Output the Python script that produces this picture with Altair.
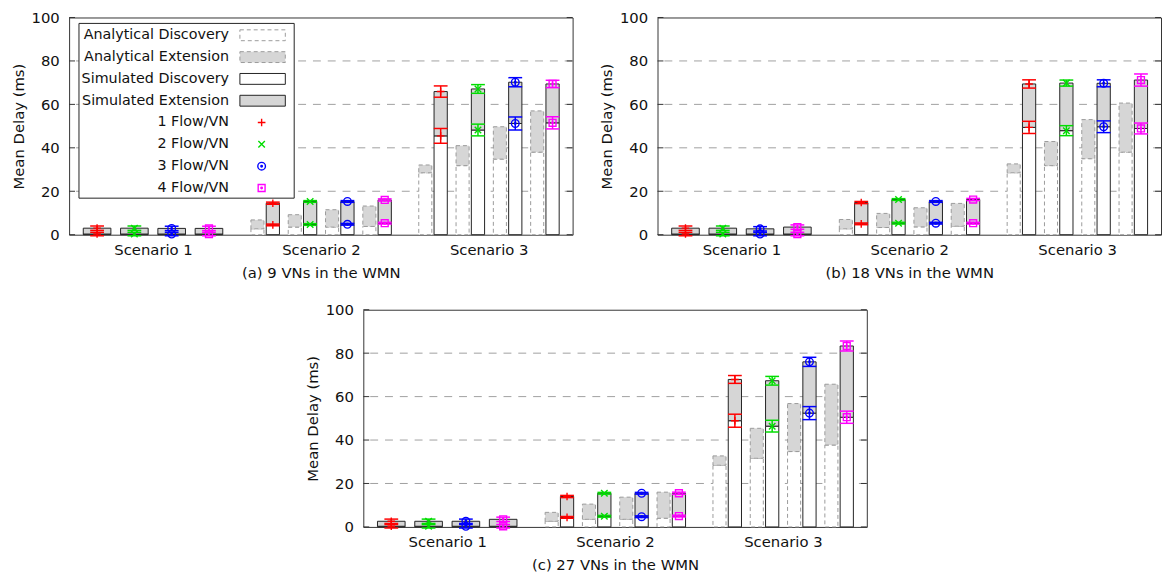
import altair as alt
import pandas as pd

# ---------------- data ----------------
scenarios = ["Scenario 1", "Scenario 2", "Scenario 3"]
flows = ["1 Flow/VN", "2 Flow/VN", "3 Flow/VN", "4 Flow/VN"]
panel_titles = ["(a) 9 VNs in the WMN", "(b) 18 VNs in the WMN", "(c) 27 VNs in the WMN"]
legend_labels = ["Analytical Discovery", "Analytical Extension",
                 "Simulated Discovery", "Simulated Extension"]
y_ticks = [0, 20, 40, 60, 80, 100]
grid_values = [20, 40, 60, 80]

# each list: Scenario 1 (4 flows), Scenario 2 (4 flows), Scenario 3 (4 flows)
# panel (a) 9 VNs
ana_disc_a = [0, 0, 0, 0, 2.7, 3.5, 3.5, 3.8, 28.5, 31.8, 34.8, 38.0]
ana_total_a = [0, 0, 0, 0, 6.8, 9.2, 11.5, 13.2, 32.1, 41.0, 49.7, 57.0]
sim_disc_a = [0.3, 0.3, 0.3, 0.3, 4.5, 4.7, 4.8, 5.3, 45.5, 48.2, 51.2, 51.5]
sim_total_a = [3.0, 3.0, 2.9, 2.9, 14.5, 15.3, 15.3, 16.0, 65.9, 67.1, 70.2, 69.4]
err_disc_a = [0.8, 0.8, 0.8, 0.8, 0.4, 0.4, 0.4, 0.4, 3.4, 2.7, 3.0, 2.8]
err_total_a = [1.0, 1.0, 1.0, 1.0, 0.5, 0.4, 0.4, 0.5, 2.6, 2.0, 2.1, 1.7]

# panel (b) 18 VNs
ana_disc_b = [0, 0, 0, 0, 2.7, 3.3, 3.6, 3.9, 28.5, 31.8, 35.0, 38.0]
ana_total_b = [0, 0, 0, 0, 7.0, 9.8, 12.4, 14.4, 32.6, 42.9, 53.0, 60.6]
sim_disc_b = [0.3, 0.3, 0.3, 0.3, 5.0, 5.3, 5.3, 5.3, 49.4, 47.9, 49.7, 48.9]
sim_total_b = [3.0, 3.0, 2.7, 3.5, 14.8, 16.2, 15.3, 16.2, 69.4, 69.8, 69.7, 71.2]
err_disc_b = [0.8, 0.8, 0.8, 0.8, 0.4, 0.4, 0.4, 0.4, 2.8, 2.3, 2.7, 2.5]
err_total_b = [1.0, 1.0, 1.0, 1.0, 0.5, 0.4, 0.4, 0.5, 1.9, 1.4, 1.6, 2.8]

# panel (c) 27 VNs
ana_disc_c = [0, 0, 0, 0, 2.6, 3.5, 3.5, 4.0, 28.4, 31.6, 34.7, 37.7]
ana_total_c = [0, 0, 0, 0, 6.7, 10.5, 13.7, 16.0, 32.7, 45.4, 56.8, 65.7]
sim_disc_c = [0.3, 0.3, 0.3, 0.3, 4.4, 4.9, 4.7, 5.0, 48.9, 46.4, 52.4, 50.5]
sim_total_c = [2.6, 2.6, 2.6, 3.5, 14.0, 15.5, 15.5, 15.5, 67.9, 67.3, 76.0, 83.3]
err_disc_c = [0.8, 0.8, 0.8, 0.8, 0.4, 0.4, 0.4, 0.4, 3.0, 2.7, 3.0, 2.8]
err_total_c = [1.0, 1.0, 1.0, 1.0, 0.5, 0.4, 0.4, 0.5, 1.8, 2.0, 2.1, 2.3]

panels = [
    (ana_disc_a, ana_total_a, sim_disc_a, sim_total_a, err_disc_a, err_total_a),
    (ana_disc_b, ana_total_b, sim_disc_b, sim_total_b, err_disc_b, err_total_b),
    (ana_disc_c, ana_total_c, sim_disc_c, sim_total_c, err_disc_c, err_total_c),
]

# ---------------- styles ----------------
flow_colors = ["#ff0000", "#00dd00", "#0000ff", "#ff00ff"]
flow_shapes = [
    "M-1,0L1,0M0,-1L0,1",
    "M-0.85,-0.85L0.85,0.85M-0.85,0.85L0.85,-0.85",
    "M-1,0A1,1,0,1,1,1,0A1,1,0,1,1,-1,0Z M-0.2,0A0.2,0.2,0,1,1,0.2,0A0.2,0.2,0,1,1,-0.2,0Z",
    "M-0.9,-0.9L0.9,-0.9L0.9,0.9L-0.9,0.9Z M-0.2,0A0.2,0.2,0,1,1,0.2,0A0.2,0.2,0,1,1,-0.2,0Z",
]
EXT_FILL = "#d6d6d6"
SIM_STROKE = "#222222"
ANA_STROKE = "#9a9a9a"
ANA_DASH = [4, 3]
W, H = 510, 220
FONT = "DejaVu Sans"
FS = 15

x_scale = alt.Scale(domain=[-4.5, 22.5], nice=False, zero=False)
y_scale = alt.Scale(domain=[0, 100], nice=False)
label_expr = " : ".join(
    f"datum.value == {9 * i} ? '{s}'" for i, s in enumerate(scenarios[:-1])
) + f" : '{scenarios[-1]}'"

color_enc = alt.Color("flow:N", scale=alt.Scale(domain=flows, range=flow_colors), legend=None)
shape_enc = alt.Shape("flow:N", scale=alt.Scale(domain=flows, range=flow_shapes), legend=None)


def build_frames(vals):
    ana_disc, ana_total, sim_disc, sim_total, err_disc, err_total = vals
    rows, errs = [], []
    for s in range(3):
        for j in range(4):
            i = s * 4 + j
            pc = 9 * s + 2 * j - 3
            if s == 0:
                sx0, sx1, xe = pc - 0.74, pc + 0.74, pc
            else:
                sx0, sx1 = pc + 0.07, pc + 0.78
                xe = (sx0 + sx1) / 2
            rows.append(dict(scen=s, flow=flows[j],
                             ax0=pc - 0.75, ax1=pc - 0.05, sx0=sx0, sx1=sx1,
                             ad=ana_disc[i], at=ana_total[i],
                             sd=sim_disc[i], st=sim_total[i]))
            for v, e in ((sim_disc[i], err_disc[i]), (sim_total[i], err_total[i])):
                errs.append(dict(flow=flows[j], xe=xe, cx0=xe - 0.37, cx1=xe + 0.37,
                                 v=v, lo=v - e, hi=v + e))
    return pd.DataFrame(rows), pd.DataFrame(errs)


def make_panel(idx, with_legend):
    df, ef = build_frames(panels[idx])
    ana = df[df["at"] > 0]
    x_axis = alt.Axis(values=[0, 9, 18], labelExpr=label_expr, title=panel_titles[idx],
                      ticks=False, domain=False, grid=False, labelPadding=8,
                      titlePadding=8, labelFlush=False)
    y_axis = alt.Axis(values=y_ticks, title="Mean Delay (ms)", ticks=False, domain=False,
                      grid=False, labelPadding=10, titlePadding=5, labelFlush=False)

    def X(f):
        return alt.X(f"{f}:Q", scale=x_scale, axis=x_axis)

    def Y(f):
        return alt.Y(f"{f}:Q", scale=y_scale, axis=y_axis)

    gdf = pd.DataFrame({"v": grid_values})
    tdf = pd.DataFrame({"v": y_ticks})
    grid = alt.Chart(gdf).mark_rule(color="#a0a0a0", strokeDash=[8, 7], strokeWidth=1).encode(y=Y("v"))
    tick_l = alt.Chart(tdf).mark_rule(color="#333", strokeWidth=1).encode(
        y=Y("v"), x=alt.value(0), x2=alt.value(6))
    tick_r = alt.Chart(tdf).mark_rule(color="#333", strokeWidth=1).encode(
        y=Y("v"), x=alt.value(W - 6), x2=alt.value(W))

    ana_d = alt.Chart(ana).mark_rect(fill="white", stroke=ANA_STROKE, strokeDash=ANA_DASH,
                                     strokeWidth=1).encode(
        x=X("ax0"), x2="ax1", y=alt.Y("zero:Q", scale=y_scale, axis=y_axis), y2="ad"
    ).transform_calculate(zero="0")
    ana_e = alt.Chart(ana).mark_rect(fill=EXT_FILL, stroke=ANA_STROKE, strokeDash=ANA_DASH,
                                     strokeWidth=1).encode(
        x=X("ax0"), x2="ax1", y=Y("ad"), y2="at")
    sim_d = alt.Chart(df).mark_rect(fill="white", stroke=SIM_STROKE, strokeWidth=1).encode(
        x=X("sx0"), x2="sx1", y=alt.Y("zero:Q", scale=y_scale, axis=y_axis), y2="sd"
    ).transform_calculate(zero="0")
    sim_e = alt.Chart(df).mark_rect(fill=EXT_FILL, stroke=SIM_STROKE, strokeWidth=1).encode(
        x=X("sx0"), x2="sx1", y=Y("sd"), y2="st")

    ebar = alt.Chart(ef).mark_rule(strokeWidth=1.5).encode(
        x=X("xe"), y=Y("lo"), y2="hi", color=color_enc)
    cap_lo = alt.Chart(ef).mark_rule(strokeWidth=1.5).encode(
        x=X("cx0"), x2="cx1", y=Y("lo"), color=color_enc)
    cap_hi = alt.Chart(ef).mark_rule(strokeWidth=1.5).encode(
        x=X("cx0"), x2="cx1", y=Y("hi"), color=color_enc)
    pts = alt.Chart(ef).mark_point(filled=False, size=60, strokeWidth=1.4, opacity=1).encode(
        x=X("xe"), y=Y("v"), color=color_enc, shape=shape_enc)

    layers = [grid, tick_l, tick_r, ana_d, ana_e, sim_d, sim_e, ebar, cap_lo, cap_hi, pts]

    if with_legend:
        one = pd.DataFrame({"k": [0]})
        box = alt.Chart(one).mark_rect(fill="white", stroke=SIM_STROKE, strokeWidth=1).encode(
            x=alt.value(10), x2=alt.value(228), y=alt.value(6), y2=alt.value(183))
        layers.append(box)
        row_y = [18 + 22.1 * i for i in range(8)]
        texts = legend_labels + flows
        for i, t in enumerate(texts):
            layers.append(
                alt.Chart(pd.DataFrame({"label": [t]})).mark_text(
                    align="right", baseline="middle", fontSize=14.5, font=FONT, color="#111"
                ).encode(x=alt.value(162), y=alt.value(row_y[i]), text="label:N"))
        styles = [("white", ANA_STROKE, ANA_DASH), (EXT_FILL, ANA_STROKE, ANA_DASH),
                  ("white", SIM_STROKE, None), (EXT_FILL, SIM_STROKE, None)]
        for i, (fill, stroke, dash) in enumerate(styles):
            kw = dict(fill=fill, stroke=stroke, strokeWidth=1)
            if dash:
                kw["strokeDash"] = dash
            layers.append(alt.Chart(one).mark_rect(**kw).encode(
                x=alt.value(173), x2=alt.value(219),
                y=alt.value(row_y[i] - 5.5), y2=alt.value(row_y[i] + 5.5)))
        for j in range(4):
            layers.append(alt.Chart(one).mark_point(
                shape=flow_shapes[j], filled=False, size=60, strokeWidth=1.4,
                color=flow_colors[j], opacity=1
            ).encode(x=alt.value(195), y=alt.value(row_y[4 + j])))

    return alt.layer(*layers).properties(width=W, height=H)


pa = make_panel(0, True)
pb = make_panel(1, False)
pc = make_panel(2, False)

top = alt.hconcat(pa, pb, spacing=25)
chart = alt.vconcat(top, pc, spacing=21, center=True).properties(
    padding={"left": 10, "top": 6, "right": 0, "bottom": 0}
).configure(font=FONT).configure_view(
    stroke="#333", strokeWidth=1
).configure_axis(
    labelFontSize=FS, titleFontSize=FS, labelColor="#111", titleColor="#111",
    titleFontWeight="normal", labelFont=FONT, titleFont=FONT
)

chart.save("out.html", embed_options={"renderer": "svg", "actions": False})
